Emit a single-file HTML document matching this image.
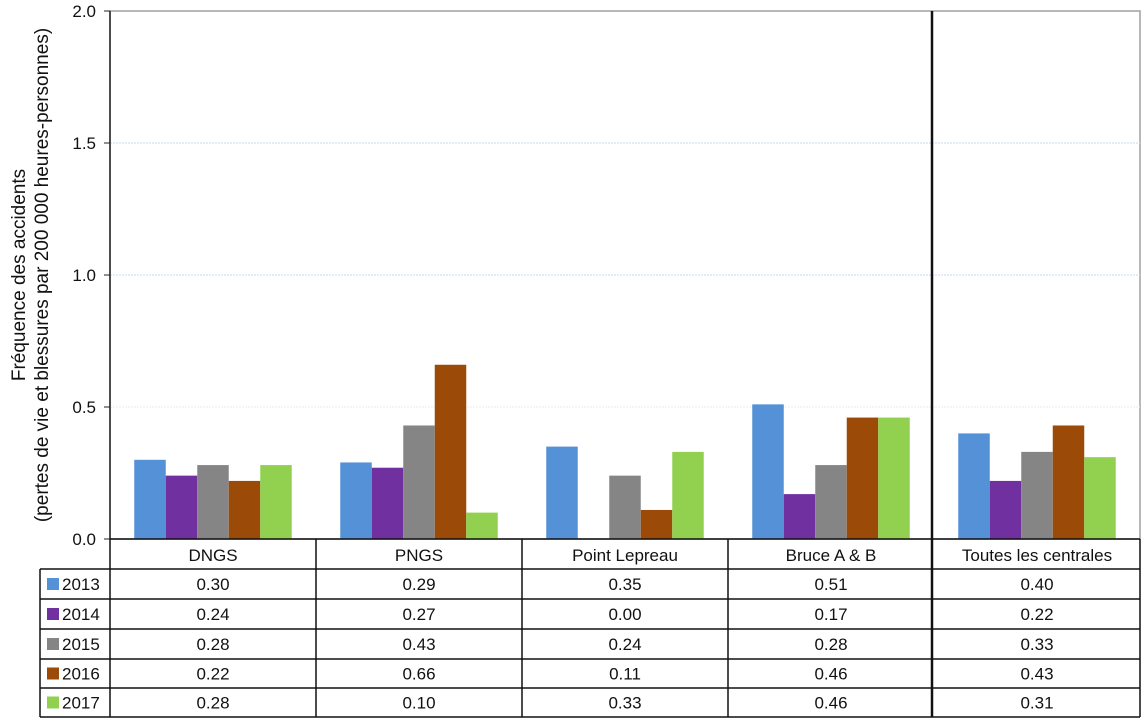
<!DOCTYPE html>
<html><head><meta charset="utf-8"><style>
body{margin:0;background:#fff}
svg text{font-family:"Liberation Sans",Arial,sans-serif;font-size:17px;fill:#111}
</style></head><body>
<svg id="c" width="1147" height="722"></svg>
<script>
const categories=["DNGS","PNGS","Point Lepreau","Bruce A & B","Toutes les centrales"];
const years=["2013","2014","2015","2016","2017"];
const v2013=[0.30,0.29,0.35,0.51,0.40];
const v2014=[0.24,0.27,0.00,0.17,0.22];
const v2015=[0.28,0.43,0.24,0.28,0.33];
const v2016=[0.22,0.66,0.11,0.46,0.43];
const v2017=[0.28,0.10,0.33,0.46,0.31];
const yTicks=[0,0.5,1.0,1.5,2.0];
const series=[v2013,v2014,v2015,v2016,v2017];
const colors=["#5591d6","#7030a0","#858585","#9c4a08","#92d050"];
const svg=document.getElementById('c');const NS="http://www.w3.org/2000/svg";
function mk(t,a,p){const e=document.createElementNS(NS,t);for(const k in a)e.setAttribute(k,a[k]);(p||svg).appendChild(e);return e;}
const L=110,R=1140,T=11,B=539,yMax=2.0;
const y=v=>B-(v/yMax)*(B-T);
const cw=(R-L)/categories.length;
const x=i=>L+i*cw;
const bw=31.5,off=(cw-bw*5)/2;
const fr=mk('rect',{x:L,y:T,width:R-L,height:B-T,fill:'none',stroke:'#a0a0a0','stroke-width':1.5});


yTicks.forEach(t=>{
  if(t>0&&t<yMax){const g=mk('line',{x1:L,x2:R,y1:y(t),y2:y(t),stroke:t===0.5?'#e6ecf5':'#c8d8f0','stroke-dasharray':'2,1'});
  
  }
  const tk=mk('line',{x1:L-6,x2:L,y1:y(t),y2:y(t),stroke:'#222'});
  
  
  const tx=mk('text',{x:L-14,y:y(t)+6,'text-anchor':'end'});tx.textContent=t.toFixed(1);
  
  
});
const ax=mk('line',{x1:L,x2:L,y1:T,y2:B,stroke:'#222','stroke-width':1.5});


series.forEach((s,si)=>s.forEach((v,ci)=>{
  const r=mk('rect',{x:x(ci)+off+si*bw,y:y(v),width:bw,height:B-y(v),fill:colors[si]});
  
  
}));
const rowH=[539,569,599,629,659,688,717];
const tl=(x1,y1,x2,y2,w)=>{const l=mk('line',{x1,y1,x2,y2,stroke:'#111','stroke-width':w||1.5});};
tl(L,B,R,B);
for(let r=1;r<rowH.length;r++)tl(40,rowH[r],R,rowH[r]);
tl(40,rowH[1],40,717);
for(let i=0;i<=categories.length;i++){if(Math.abs(x(i)-932)>5)tl(x(i),B,x(i),717);}
tl(932,T,932,717,2.5);
categories.forEach((c,i)=>{const t=mk('text',{x:x(i)+cw/2,y:561,'text-anchor':'middle'});t.textContent=c;
  
  });
years.forEach((yr,si)=>{
  const cy=(rowH[si+1]+rowH[si+2])/2;
  const sw=mk('rect',{x:47,y:cy-6,width:12,height:12,fill:colors[si]});
  
  
  const t=mk('text',{x:62,y:cy+6});t.textContent=yr;
  
  
  series[si].forEach((v,ci)=>{const tv=mk('text',{x:x(ci)+cw/2,y:cy+6,'text-anchor':'middle'});tv.textContent=v.toFixed(2);
    
    });
});
const yt=mk('text',{transform:'translate(25,275) rotate(-90)','text-anchor':'middle','style':'font-size:19px'});yt.textContent='Fréquence des accidents';


const yt2=mk('text',{transform:'translate(48,275) rotate(-90)','text-anchor':'middle','style':'font-size:19px'});yt2.textContent='(pertes de vie et blessures par 200 000 heures-personnes)';


</script>
</body></html>
